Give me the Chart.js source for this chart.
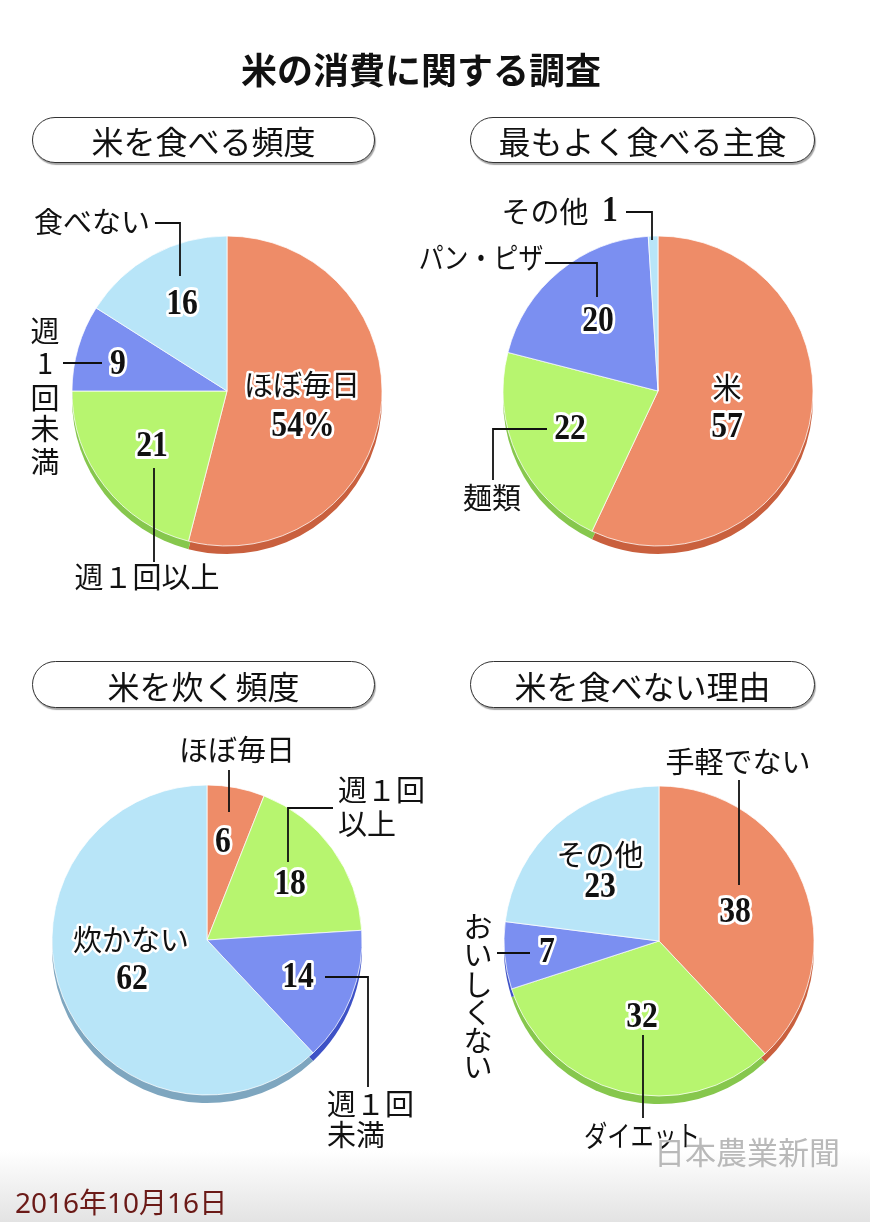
<!DOCTYPE html>
<html lang="ja">
<head>
<meta charset="utf-8">
<script src="https://cdn.jsdelivr.net/npm/chart.js@4.4.1/dist/chart.umd.min.js"></script>
<style>
  html, body { margin:0; padding:0; }
  body { width:870px; height:1222px; position:relative; overflow:hidden; background:#fff;
         font-family:"Noto Sans CJK JP","Noto Sans",sans-serif; color:#111; }
  #grad { position:absolute; left:0; top:1150px; width:870px; height:72px;
          background:linear-gradient(#ffffff, #e3e3e3); }
  canvas.pie { position:absolute; left:0; top:0; }
  .title { position:absolute; left:0; width:842px; top:46px; height:44px; line-height:44px;
           text-align:center; font-size:36px; font-weight:700; letter-spacing:0; }
  .pill { position:absolute; box-sizing:border-box; border:1.6px solid #333; border-radius:24px;
          display:flex; align-items:center; justify-content:center; font-size:32px; font-weight:400;
          box-shadow:1px 2px 1px rgba(0,0,0,0.35); background:#fff; }
  .wm { position:absolute; left:654px; top:1131px; height:40px; line-height:40px; font-size:31px;
        color:#b9b9b9; font-weight:400; }
  .date { position:absolute; left:15px; top:1184px; height:36px; line-height:36px; font-size:28px;
          color:#6b1a17; font-family:"Noto Sans","Noto Sans CJK JP",sans-serif; }
</style>
</head>
<body>
<div id="grad"></div>
<canvas class="pie" id="c1" width="870" height="1222"></canvas>
<canvas class="pie" id="c2" width="870" height="1222"></canvas>
<canvas class="pie" id="c3" width="870" height="1222"></canvas>
<canvas class="pie" id="c4" width="870" height="1222"></canvas>

<div class="title">米の消費に関する調査</div>
<div class="pill" style="left:32px;top:117px;width:343px;height:46px;">米を食べる頻度</div>
<div class="pill" style="left:470px;top:117px;width:345px;height:46px;">最もよく食べる主食</div>
<div class="pill" style="left:32px;top:661px;width:343px;height:47px;">米を炊く頻度</div>
<div class="pill" style="left:470px;top:661px;width:345px;height:47px;">米を食べない理由</div>
<div class="wm">日本農業新聞</div>
<div class="date">2016年10月16日</div>

<script>
// ---------- DATA ----------
const eatFreqCats = ['ほぼ毎日', '週1回以上', '週1回未満', '食べない'];
const eatFreqVals = [54, 21, 9, 16];

const stapleCats = ['米', '麺類', 'パン・ピザ', 'その他'];
const stapleVals = [57, 22, 20, 1];

const cookFreqCats = ['ほぼ毎日', '週1回以上', '週1回未満', '炊かない'];
const cookFreqVals = [6, 18, 14, 62];

const reasonCats = ['手軽でない', 'ダイエット', 'おいしくない', 'その他'];
const reasonVals = [38, 32, 7, 23];

// ---------- STYLE ----------
const topColors = ['#EE8C68', '#B7F56F', '#7B8FF1', '#B8E5F8'];
const rimColors = ['#C9603E', '#86C74D', '#3E52C6', '#7EA6BF'];
const PIE_R = 155;
const DEPTH = 8;
const NUM_FONT = 'bold 36px "Liberation Serif", "DejaVu Serif", serif';
const NUM_SCALE = 0.88;
const LBL_FONT = '400 29px "Noto Sans CJK JP", sans-serif';

// ---------- LAYOUT (offsets relative to pie centre) ----------
const layouts = [
  { center: [227, 391], items: [
    { num: [76, 36], suffix: '%', label: { pos: [75, -6], inside: true } },
    { num: [-75, 56], label: { pos: [-80, 186] }, leader: [[-73, 77], [-73, 171]] },
    { num: [-109, -26], label: { vx: -182, vy: [-60, -28, 7, 38, 71] }, leader: [[-164, -28], [-125, -28]] },
    { num: [-45, -86], label: { pos: [-135, -169] }, leader: [[-72, -168], [-47, -168], [-47, -115]] }
  ]},
  { center: [658, 391], items: [
    { num: [69, 37], label: { pos: [69, -3], inside: true } },
    { num: [-88, 39], label: { pos: [-166, 107] }, leader: [[-111, 38], [-165, 38], [-165, 89]] },
    { num: [-60, -69], label: { pos: [-177, -133], sx: 0.86 }, leader: [[-113, -128], [-61, -128], [-61, -94]] },
    { num: [-48, -179], label: { pos: [-113, -179] }, leader: [[-32, -179], [-6, -179], [-6, -151]] }
  ]},
  { center: [207, 940], items: [
    { num: [16, -97], label: { pos: [30, -190] }, leader: [[22, -170], [22, -128]] },
    { num: [83, -55], label: { left: [131, -150], split: 3, gap: 34 }, leader: [[126, -132], [81, -132], [81, -78]] },
    { num: [91, 38], label: { left: [120, 164], split: 3, gap: 31 }, leader: [[118, 37], [161, 37], [161, 147]] },
    { num: [-75, 40], label: { pos: [-76, 0], inside: true } }
  ]},
  { center: [659, 941], items: [
    { num: [76, -28], label: { pos: [79, -179] }, leader: [[80, -161], [80, -56]] },
    { num: [-17, 77], label: { pos: [-17, 195], sx: 0.8 }, leader: [[-16, 94], [-16, 177]] },
    { num: [-112, 12], label: { vx: -181, vy: [-14, 14, 44, 72, 100, 126] }, leader: [[-162, 12], [-129, 12]] },
    { num: [-59, -53], label: { pos: [-59, -86], inside: true } }
  ]}
];

function fullWidthDigits(s) {
  return s.replace(/[0-9]/g, d => String.fromCharCode(d.charCodeAt(0) + 0xFEE0));
}

function drawText(ctx, text, x, y, font, halo, scaleX, align) {
  ctx.save();
  ctx.font = font;
  ctx.textAlign = align || 'center';
  ctx.textBaseline = 'middle';
  ctx.translate(x, y);
  ctx.scale(scaleX || 1, 1);
  if (halo) {
    ctx.lineWidth = halo;
    ctx.strokeStyle = '#ffffff';
    ctx.lineJoin = 'round';
    ctx.strokeText(text, 0, 0);
  }
  ctx.fillStyle = '#111111';
  ctx.fillText(text, 0, 0);
  ctx.restore();
}

function makePiePlugin(layout, cats, vals, rims) {
  return {
    id: 'pieDecor',
    beforeDatasetsDraw(chart) {
      const ctx = chart.ctx;
      const meta = chart.getDatasetMeta(0);
      ctx.save();
      meta.data.forEach((arc, i) => {
        const p = arc.getProps(['x', 'y', 'startAngle', 'endAngle', 'outerRadius'], true);
        ctx.beginPath();
        ctx.moveTo(p.x, p.y + DEPTH);
        ctx.arc(p.x, p.y + DEPTH, p.outerRadius, p.startAngle, p.endAngle);
        ctx.closePath();
        ctx.fillStyle = rims[i];
        ctx.fill();
      });
      ctx.restore();
    },
    afterDatasetsDraw(chart) {
      const ctx = chart.ctx;
      const meta = chart.getDatasetMeta(0);
      const c = meta.data[0].getProps(['x', 'y'], true);
      const cx = c.x, cy = c.y;
      ctx.save();
      ctx.strokeStyle = '#111';
      ctx.lineWidth = 1.8;
      ctx.lineJoin = 'miter';
      layout.items.forEach(it => {
        if (!it.leader) return;
        ctx.beginPath();
        it.leader.forEach((pt, k) => {
          const X = cx + pt[0], Y = cy + pt[1];
          if (k === 0) ctx.moveTo(X, Y); else ctx.lineTo(X, Y);
        });
        ctx.stroke();
      });
      ctx.restore();
      layout.items.forEach((it, i) => {
        const name = cats[i];
        const L = it.label;
        if (L.pos) {
          drawText(ctx, fullWidthDigits(name), cx + L.pos[0], cy + L.pos[1], LBL_FONT, L.inside ? 5 : 0, L.sx || 1);
        } else if (L.vy) {
          Array.from(name).forEach((ch, k) => {
            drawText(ctx, ch, cx + L.vx, cy + L.vy[k], LBL_FONT, 0);
          });
        } else if (L.left) {
          const l1 = fullWidthDigits(name.slice(0, L.split));
          const l2 = name.slice(L.split);
          drawText(ctx, l1, cx + L.left[0], cy + L.left[1], LBL_FONT, 0, 1, 'left');
          drawText(ctx, l2, cx + L.left[0], cy + L.left[1] + L.gap, LBL_FONT, 0, 1, 'left');
        }
        const txt = String(vals[i]) + (it.suffix || '');
        drawText(ctx, txt, cx + it.num[0], cy + it.num[1], NUM_FONT, 6, NUM_SCALE);
      });
    }
  };
}

function makePie(id, layout, cats, vals, tops, rims) {
  const W = 870, H = 1222, half = PIE_R + 5;
  const [cx, cy] = layout.center;
  return new Chart(document.getElementById(id), {
    type: 'pie',
    data: {
      labels: cats,
      datasets: [{
        data: vals,
        backgroundColor: tops,
        borderColor: 'rgba(255,255,255,0.75)',
        borderWidth: 1,
        radius: PIE_R
      }]
    },
    options: {
      responsive: false,
      animation: false,
      events: [],
      layout: { padding: { left: cx - half, right: W - cx - half, top: cy - half, bottom: H - cy - half } },
      plugins: { legend: { display: false }, tooltip: { enabled: false }, title: { display: false } }
    },
    plugins: [makePiePlugin(layout, cats, vals, rims)]
  });
}

makePie('c1', layouts[0], eatFreqCats, eatFreqVals, topColors, rimColors);
makePie('c2', layouts[1], stapleCats, stapleVals, topColors, rimColors);
makePie('c3', layouts[2], cookFreqCats, cookFreqVals, topColors, rimColors);
makePie('c4', layouts[3], reasonCats, reasonVals, topColors, rimColors);
</script>
</body>
</html>
